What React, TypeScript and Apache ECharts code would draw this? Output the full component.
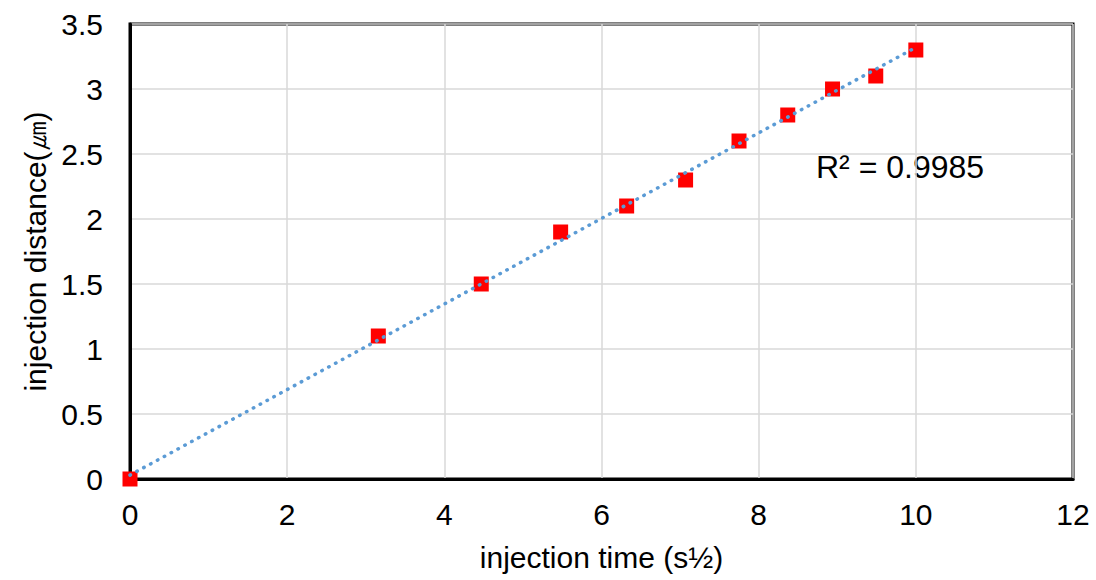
import React, { useEffect, useRef } from "react";
import * as echarts from "echarts";

const timeSqrt = [0, 3.16, 4.47, 5.48, 6.32, 7.07, 7.75, 8.37, 8.94, 9.49, 10];
const distance = [0, 1.1, 1.5, 1.9, 2.1, 2.3, 2.6, 2.8, 3.0, 3.1, 3.3];
const trendX = [0, 10];
const trendY = [0.03, 3.32];
const rSquaredText = "R² = 0.9985";
const xAxisName = "injection time (s½)";
const yAxisName = "injection distance(㎛)";

const FONT = "'Liberation Sans', Arial, sans-serif";

export default function App() {
  const ref = useRef<HTMLDivElement>(null);
  useEffect(() => {
    document.body.style.margin = "0";
    if (!ref.current) return;
    const chart = echarts.init(ref.current, undefined, { renderer: "svg" });
    chart.setOption({
      animation: false,
      backgroundColor: "#fff",
      textStyle: { fontFamily: FONT },
      grid: {
        left: 130,
        top: 24,
        right: 23,
        bottom: 101,
        show: true,
        borderColor: "#000",
        borderWidth: 3,
      },
      xAxis: {
        type: "value",
        min: 0,
        max: 12,
        interval: 2,
        name: xAxisName,
        nameLocation: "middle",
        nameGap: 63,
        nameTextStyle: { fontSize: 30, color: "#000", fontFamily: FONT },
        axisLine: { show: true, lineStyle: { color: "#000", width: 3 } },
        axisTick: { show: false },
        axisLabel: { fontSize: 30, color: "#000", margin: 20, fontFamily: FONT },
        splitLine: { show: true, lineStyle: { color: "#d9d9d9", width: 1.5 } },
      },
      yAxis: {
        type: "value",
        min: 0,
        max: 3.5,
        interval: 0.5,
        name: yAxisName,
        nameLocation: "middle",
        nameGap: 80,
        nameTextStyle: { fontSize: 30, color: "#000", fontFamily: FONT },
        axisLine: { show: true, lineStyle: { color: "#000", width: 3 } },
        axisTick: { show: false },
        axisLabel: { fontSize: 30, color: "#000", margin: 27, fontFamily: FONT },
        splitLine: { show: true, lineStyle: { color: "#d9d9d9", width: 1.5 } },
      },
      series: [
        {
          type: "scatter",
          data: timeSqrt.map((x, i) => [x, distance[i]]),
          symbol: "rect",
          symbolSize: 15,
          itemStyle: { color: "#ff0000", opacity: 1 },
          z: 2,
        },
        {
          type: "line",
          data: trendX.map((x, i) => [x, trendY[i]]),
          showSymbol: false,
          symbol: "none",
          lineStyle: { color: "#5b9bd5", width: 3.5, type: [0.5, 7.3], cap: "round" },
          z: 3,
        },
      ],
      graphic: [
        {
          type: "text",
          left: 816,
          top: 151,
          style: { text: rSquaredText, fill: "#000", font: `32px ${FONT}` },
        },
      ],
    });
    return () => chart.dispose();
  }, []);
  return <div ref={ref} style={{ width: 1096, height: 580 }} />;
}
